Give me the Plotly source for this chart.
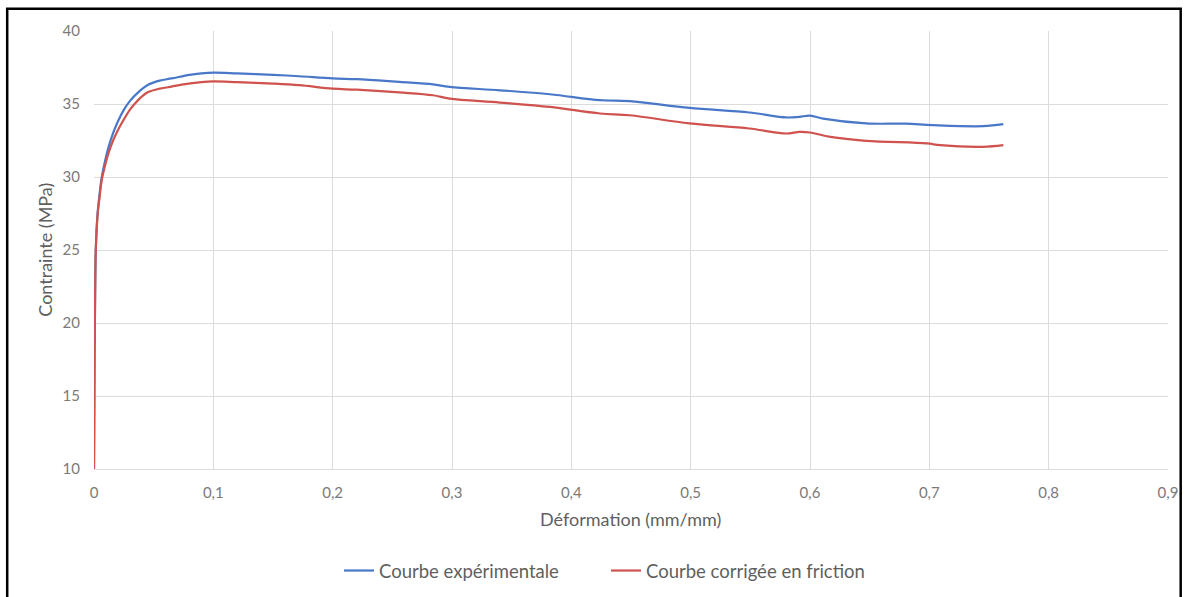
import plotly.graph_objects as go

# Data
strain_exp = [0, 0.0005, 0.001, 0.0015, 0.003, 0.0045, 0.0065, 0.009, 0.012, 0.016, 0.020,
              0.025, 0.030, 0.037, 0.045, 0.055, 0.065, 0.080, 0.090, 0.100, 0.120, 0.150,
              0.172, 0.200, 0.220, 0.256, 0.284, 0.298, 0.340, 0.382, 0.424, 0.449, 0.499,
              0.549, 0.580, 0.591, 0.600, 0.611, 0.647, 0.680, 0.703, 0.745, 0.762]
stress_exp = [10, 18, 22.5, 25, 27.5, 28.7, 30, 31, 32, 33, 33.8,
              34.6, 35.2, 35.8, 36.3, 36.6, 36.75, 37.0, 37.1, 37.15, 37.1, 37.0,
              36.9, 36.75, 36.7, 36.51, 36.35, 36.17, 35.94, 35.67, 35.26, 35.2, 34.73,
              34.42, 34.08, 34.12, 34.2, 34.0, 33.67, 33.65, 33.55, 33.48, 33.62]

strain_corr = [0, 0.0005, 0.001, 0.0015, 0.003, 0.0045, 0.0065, 0.009, 0.012, 0.016, 0.020,
               0.024, 0.030, 0.034, 0.040, 0.045, 0.055, 0.062, 0.075, 0.090, 0.100, 0.120,
               0.150, 0.172, 0.200, 0.220, 0.256, 0.284, 0.298, 0.340, 0.382, 0.424, 0.449,
               0.499, 0.549, 0.580, 0.591, 0.600, 0.617, 0.647, 0.698, 0.709, 0.745, 0.762]
stress_corr = [10, 18, 22.5, 25, 27.4, 28.5, 29.8, 30.7, 31.6, 32.5, 33.2,
               33.8, 34.6, 35.0, 35.5, 35.8, 36.05, 36.15, 36.35, 36.5, 36.55, 36.5,
               36.4, 36.29, 36.05, 35.98, 35.79, 35.6, 35.37, 35.1, 34.8, 34.35, 34.23,
               33.67, 33.32, 32.98, 33.09, 33.05, 32.75, 32.48, 32.3, 32.18, 32.07, 32.18]

series_names = ["Courbe expérimentale", "Courbe corrigée en friction"]
x_tick_vals = [0, 0.1, 0.2, 0.3, 0.4, 0.5, 0.6, 0.7, 0.8, 0.9]
x_tick_text = ["0", "0,1", "0,2", "0,3", "0,4", "0,5", "0,6", "0,7", "0,8", "0,9"]
y_tick_vals = [10, 15, 20, 25, 30, 35, 40]

FONT = "Lato, 'Open Sans', sans-serif"
GREY = "#7a7a7a"
TEXT = "#5f5f5f"
GRID = "#dcdcdc"

fig = go.Figure()
fig.add_trace(go.Scatter(x=strain_exp, y=stress_exp, mode="lines", name=series_names[0],
                         line=dict(color="#4a78c8", width=2.2), line_shape="spline"))
fig.add_trace(go.Scatter(x=strain_corr, y=stress_corr, mode="lines", name=series_names[1],
                         line=dict(color="#cf524e", width=2.2), line_shape="spline"))

# plot area in pixels
L, R, T, B = 94.3, 1168.3, 30.7, 469.3
W, H = 1188, 597

def px(xp):
    return (xp - L) / (R - L)

def py(yp):
    return (B - yp) / (B - T)

fig.update_layout(
    width=W, height=H,
    margin=dict(l=L, r=W - R, t=T, b=H - B, pad=0, autoexpand=False),
    paper_bgcolor="white", plot_bgcolor="white",
    font=dict(family=FONT, size=15, color=GREY),
    showlegend=True,
    legend=dict(orientation="h", xref="container", yref="container",
                x=606 / W, xanchor="center", y=1 - 571 / H, yanchor="middle",
                font=dict(family=FONT, size=18.5, color=TEXT),
                entrywidthmode="pixels", entrywidth=222,
                traceorder="normal"),
    xaxis=dict(range=[0, 0.9], tickvals=x_tick_vals, ticktext=x_tick_text,
               showgrid=True, gridcolor=GRID, gridwidth=1, zeroline=False,
               showline=True, linecolor=GRID, linewidth=1, ticks="",
               ticklabelstandoff=10, automargin=False,
               tickfont=dict(family=FONT, size=15, color=GREY)),
    yaxis=dict(range=[10, 40], tickvals=y_tick_vals,
               showgrid=True, gridcolor=GRID, gridwidth=1, zeroline=False,
               showline=False, ticks="", ticklen=0,
               ticklabelstandoff=13, automargin=False,
               tickfont=dict(family=FONT, size=15, color=GREY)),
    annotations=[
        dict(text="Déformation (mm/mm)", x=px(631), y=py(519), xref="paper", yref="paper",
             showarrow=False, xanchor="center", yanchor="middle",
             font=dict(family=FONT, size=18, color=TEXT)),
        dict(text="Contrainte (MPa)", x=px(45), y=py(250), xref="paper", yref="paper",
             showarrow=False, xanchor="center", yanchor="middle", textangle=-90,
             font=dict(family=FONT, size=18, color=TEXT)),
    ],
    shapes=[
        dict(type="rect", xref="paper", yref="paper",
             x0=px(7.5), x1=px(1181), y0=py(620), y1=py(8.5),
             line=dict(color="black", width=2.5), fillcolor="rgba(0,0,0,0)", layer="below"),
    ],
)

fig.write_html("out.html")
